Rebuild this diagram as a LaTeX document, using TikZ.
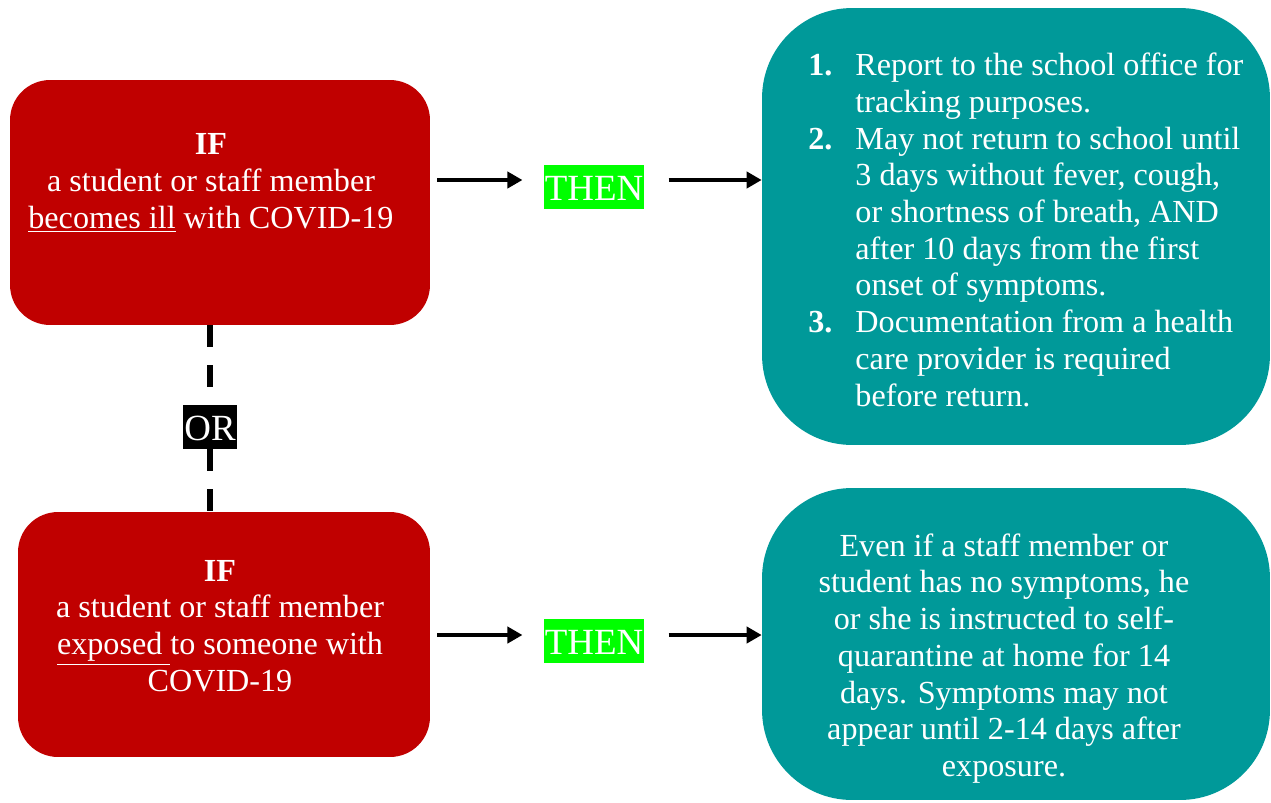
\documentclass[tikz,border=0pt]{standalone}
\usepackage{fontspec}
\setmainfont{Liberation Serif}
\usetikzlibrary{arrows.meta, positioning}
\definecolor{ifred}{HTML}{C00000}
\definecolor{thenteal}{HTML}{009999}
\definecolor{thengreen}{HTML}{00FF00}

\begin{document}
\begin{tikzpicture}[x=0.02cm,y=-0.02cm,
  ifbox/.style={rectangle, rounded corners=0.8cm, fill=ifred, minimum height=4.9cm},
  dobox/.style={rectangle, rounded corners=1.8cm, fill=thenteal, minimum width=10.16cm},
  body/.style={text=white, font=\fontsize{18.3}{20.9}\selectfont, inner sep=0pt},
  tag/.style={text=white, font=\fontsize{21}{21}\selectfont, text height=0.52cm, text depth=0cm, inner xsep=0.02cm, inner ysep=0.18cm},
  go/.style={-{Triangle[length=0.3cm,width=0.32cm]}, line width=0.08cm},
  alt/.style={line width=0.11cm, dash pattern=on 0.44cm off 0.36cm}]
\useasboundingbox (0,0) rectangle (1271,802);

\node[ifbox, minimum width=8.4cm] (ill) at (220,202.5) {};
\node[ifbox, minimum width=8.24cm] (exposed) at (224,634.5) {};
\node[dobox, minimum height=8.74cm] (steps) at (1016,226.5) {};
\node[dobox, minimum height=6.24cm] (quarantine) at (1016,644) {};

\node[tag, fill=thengreen] (then1) at (594,187) {THEN};
\node[tag, fill=thengreen] (then2) at (594,641) {THEN};
\node[tag, fill=black] (or) at (210,427) {OR};

\node[body, align=center] (illtext) at (211,183) {\textbf{IF}\\a student or staff member\\\underline{becomes ill} with COVID-19};
\node[body, align=center] (exposedtext) at (220,626) {\textbf{IF}\\a student or staff member\\\underline{exposed\ }to someone with\\COVID-19};
\node[body, anchor=west] (stepstext) at (808,233.5) {\begin{tabular}{@{}r@{\hspace{0.46cm}}l@{}}
\textbf{1.} & Report to the school office for\\
 & tracking purposes.\\
\textbf{2.} & May not return to school until\\
 & 3 days without fever, cough,\\
 & or shortness of breath, AND\\
 & after 10 days from the first\\
 & onset of symptoms.\\
\textbf{3.} & Documentation from a health\\
 & care provider is required\\
 & before return.
\end{tabular}};
\node[body, align=center] (quarantinetext) at (1004,658.5) {Even if a staff member or\\student has no symptoms, he\\or she is instructed to self-\\quarantine at home for 14\\days. Symptoms may not\\appear until 2-14 days after\\exposure.};

\draw[go] ([xshift=0.14cm,yshift=0.14cm]ill.east |- then1.west) -- ([xshift=-0.42cm,yshift=0.14cm]then1.west);
\draw[go] ([xshift=0.48cm,yshift=0.14cm]then1.east) -- ([yshift=0.14cm]then1.east -| steps.west);
\draw[go] ([xshift=0.14cm,yshift=0.12cm]exposed.east |- then2.west) -- ([xshift=-0.42cm,yshift=0.12cm]then2.west);
\draw[go] ([xshift=0.48cm,yshift=0.12cm]then2.east) -- ([yshift=0.12cm]then2.east -| quarantine.west);
\draw[alt] (ill.south -| or) -- (or.north);
\draw[alt] (or.south) -- (exposed.north -| or);
\end{tikzpicture}
\end{document}
